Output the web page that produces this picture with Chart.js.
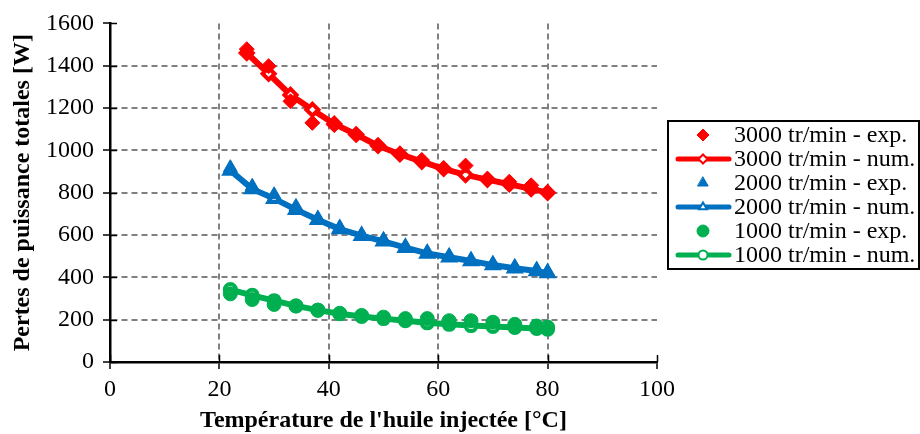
<!DOCTYPE html>
<html>
<head>
<meta charset="utf-8">
<script src="https://cdn.jsdelivr.net/npm/chart.js@4/dist/chart.umd.min.js"></script>
<style>
  html, body { margin: 0; padding: 0; background: #ffffff; }
  #wrap { width: 920px; height: 434px; position: relative; }
</style>
</head>
<body>
<div id="wrap"><canvas id="c" width="920" height="434"></canvas></div>
<script>
// ---- Data ----
const temps3000 = [25, 29, 33, 37, 41, 45, 49, 53, 57, 61, 65, 69, 73, 77, 80];
const exp3000   = [1478, 1398, 1232, 1130, 1120, 1075, 1025, 982, 955, 915, 928, 866, 852, 835, 800];
const num3000   = [1460, 1362, 1262, 1192, 1125, 1075, 1022, 982, 947, 913, 884, 862, 840, 818, 800];

const temps2000 = [22, 26, 30, 34, 38, 42, 46, 50, 54, 58, 62, 66, 70, 74, 78, 80];
const exp2000   = [918, 830, 790, 735, 675, 635, 600, 577, 545, 515, 500, 480, 462, 448, 435, 425];
const num2000   = [905, 818, 772, 720, 672, 628, 597, 570, 540, 513, 495, 477, 458, 443, 430, 420];

const temps1000 = [22, 26, 30, 34, 38, 42, 46, 50, 54, 58, 62, 66, 70, 74, 78, 80];
const exp1000   = [322, 295, 272, 265, 245, 230, 220, 212, 205, 205, 195, 195, 188, 178, 170, 165];
const num1000   = [342, 315, 290, 265, 245, 228, 215, 205, 195, 185, 178, 172, 168, 163, 158, 155];

const seriesLabels = [
  '3000 tr/min - exp.', '3000 tr/min - num.',
  '2000 tr/min - exp.', '2000 tr/min - num.',
  '1000 tr/min - exp.', '1000 tr/min - num.'
];
const xTitle = "Température de l'huile injectée [°C]";
const yTitle = 'Pertes de puissance totales [W]';

const RED = '#ff0000', BLUE = '#0070c0', GREEN = '#00b050';
const FONT = "'Liberation Serif', 'Times New Roman', serif";

function pts(xs, ys) { return xs.map((x, i) => ({ x: x, y: ys[i] })); }

function expSet(label, xs, ys, color, style, r) {
  return { label, data: pts(xs, ys), showLine: false, pointStyle: style,
    pointRadius: r, pointBackgroundColor: color, pointBorderColor: color,
    pointBorderWidth: 1, order: 1 };
}
function numSet(label, xs, ys, color, style, r) {
  return { label, data: pts(xs, ys), showLine: true, borderColor: color, borderWidth: 6,
    tension: 0, pointStyle: style, pointRadius: r, pointBackgroundColor: '#ffffff',
    pointBorderColor: color, pointBorderWidth: 4, order: 2 };
}

const datasets = [
  expSet(seriesLabels[0], temps3000, exp3000, RED, 'rectRot', 7.5),
  numSet(seriesLabels[1], temps3000, num3000, RED, 'rectRot', 6),
  expSet(seriesLabels[2], temps2000, exp2000, BLUE, 'triangle', 8),
  numSet(seriesLabels[3], temps2000, num2000, BLUE, 'triangle', 6.5),
  expSet(seriesLabels[4], temps1000, exp1000, GREEN, 'circle', 7),
  numSet(seriesLabels[5], temps1000, num1000, GREEN, 'circle', 5.5)
];

function gridColor(ctx) {
  const v = ctx.tick ? ctx.tick.value : null;
  const s = ctx.scale;
  if (v === s.min || v === s.max) return 'rgba(0,0,0,0)';
  return '#808080';
}

// Ticks that also cross into the plot area
const innerTicks = {
  id: 'innerTicks',
  afterDraw(chart) {
    const ctx = chart.ctx, a = chart.chartArea;
    const xs = chart.scales.x, ys = chart.scales.y;
    ctx.save();
    ctx.strokeStyle = '#000'; ctx.lineWidth = 1.5;
    ys.ticks.forEach(t => {
      const y = Math.round(ys.getPixelForValue(t.value)) + 0.5;
      ctx.beginPath(); ctx.moveTo(a.left, y); ctx.lineTo(a.left + 7, y); ctx.stroke();
    });
    xs.ticks.forEach(t => {
      const x = Math.round(xs.getPixelForValue(t.value)) + 0.5;
      ctx.beginPath(); ctx.moveTo(x, a.bottom); ctx.lineTo(x, a.bottom - 7); ctx.stroke();
    });
    ctx.restore();
  }
};

function drawMarker(ctx, style, x, y, r, fill, stroke, lw) {
  ctx.beginPath();
  if (style === 'rectRot') {
    ctx.moveTo(x - r, y); ctx.lineTo(x, y - r); ctx.lineTo(x + r, y); ctx.lineTo(x, y + r); ctx.closePath();
  } else if (style === 'triangle') {
    ctx.moveTo(x, y - r); ctx.lineTo(x + r * 0.866, y + r * 0.5); ctx.lineTo(x - r * 0.866, y + r * 0.5); ctx.closePath();
  } else {
    ctx.arc(x, y, r, 0, Math.PI * 2);
  }
  ctx.fillStyle = fill; ctx.fill();
  ctx.strokeStyle = stroke; ctx.lineWidth = lw; ctx.stroke();
}

// Boxed legend on the right, as in the reference
const boxLegend = {
  id: 'boxLegend',
  afterDraw(chart) {
    const ctx = chart.ctx;
    const bx = 668, by = 121, bw = 251, bh = 148;
    ctx.save();
    ctx.fillStyle = '#fff'; ctx.fillRect(bx, by, bw, bh);
    ctx.strokeStyle = '#000'; ctx.lineWidth = 2; ctx.strokeRect(bx, by, bw, bh);
    const rowY0 = 135, rowH = 24;
    ctx.font = '24px ' + FONT; ctx.textBaseline = 'middle'; ctx.textAlign = 'left';
    chart.data.datasets.forEach((ds, i) => {
      const y = rowY0 + i * rowH;
      const color = ds.pointBorderColor;
      if (ds.showLine) {
        ctx.strokeStyle = ds.borderColor; ctx.lineWidth = 5; ctx.lineCap = 'round';
        ctx.beginPath(); ctx.moveTo(678, y); ctx.lineTo(729, y); ctx.stroke();
        drawMarker(ctx, ds.pointStyle, 703, y, 4.5, '#fff', color, 2);
      } else {
        drawMarker(ctx, ds.pointStyle, 703, y, 6, ds.pointBackgroundColor, color, 1);
      }
      ctx.fillStyle = '#000';
      ctx.fillText(ds.label, 734, y + 1);
    });
    ctx.restore();
  }
};

const plainTick = v => String(v);

new Chart(document.getElementById('c'), {
  type: 'scatter',
  data: { datasets },
  options: {
    responsive: false,
    animation: false,
    devicePixelRatio: 1,
    layout: { padding: { top: 21, right: 263, bottom: 0, left: 0 } },
    plugins: { legend: { display: false }, tooltip: { enabled: false } },
    scales: {
      x: {
        type: 'linear', min: 0, max: 100,
        ticks: { stepSize: 20, color: '#000', padding: 6, callback: plainTick, font: { family: FONT, size: 24 } },
        grid: { color: gridColor, lineWidth: 2, tickLength: 7, tickColor: '#000', tickWidth: 1.5, tickBorderDash: [] },
        border: { display: true, color: '#000', width: 2.5, dash: [6, 4] },
        title: { display: true, text: xTitle, color: '#000', padding: { top: 0, bottom: 0 },
          font: { family: FONT, size: 24, weight: 'bold', lineHeight: 1.1 } },
        afterFit(s) { s.height = 72; }
      },
      y: {
        type: 'linear', min: 0, max: 1600,
        ticks: { stepSize: 200, color: '#000', padding: 9, callback: plainTick, font: { family: FONT, size: 24 } },
        grid: { color: gridColor, lineWidth: 2, tickLength: 7, tickColor: '#000', tickWidth: 1.5, tickBorderDash: [] },
        border: { display: true, color: '#000', width: 2.5, dash: [6, 4] },
        title: { display: true, text: yTitle, color: '#000', padding: { top: 10, bottom: 0 },
          font: { family: FONT, size: 24, weight: 'bold', lineHeight: 1.1 } },
        afterFit(s) { s.width = 110; }
      }
    }
  },
  plugins: [innerTicks, boxLegend]
});
</script>
</body>
</html>
